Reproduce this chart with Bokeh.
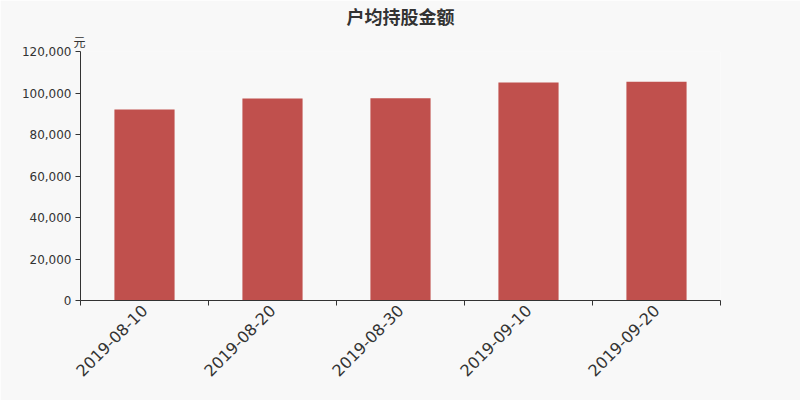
from math import pi
from bokeh.plotting import figure
from bokeh.models import (Range1d, LinearAxis, FixedTicker, NumeralTickFormatter, Title)
from bokeh.embed import file_html
from bokeh.resources import INLINE

categories = ["2019-08-10", "2019-08-20", "2019-08-30", "2019-09-10", "2019-09-20"]
values = [92000, 97400, 97500, 105100, 105400]
y_ticks = [0, 20000, 40000, 60000, 80000, 100000, 120000]
title_text = "户均持股金额"
unit_text = "元"

BG = "#f8f8f8"
TXT = "#333333"

n = len(categories)
centers = [i + 0.5 for i in range(n)]
bounds = list(range(n + 1))

p = figure(width=800, height=400, output_backend="svg", toolbar_location=None,
           x_range=Range1d(0, n), y_range=Range1d(0, 120000),
           x_axis_location=None, y_axis_location=None, title=None,
           background_fill_color=BG, border_fill_color=BG,
           min_border_left=80, min_border_right=80, min_border_top=50, min_border_bottom=100)
p.outline_line_color = None
p.grid.visible = False

unit_title = Title(text=unit_text, align="left", text_font="Noto Sans CJK SC",
                   text_font_size="12px", text_font_style="normal", text_color=TXT,
                   offset=-7, standoff=4)
main_title = Title(text=title_text, align="center", text_font="Noto Sans CJK SC",
                   text_font_size="18px", text_font_style="bold", text_color=TXT,
                   standoff=0)
p.add_layout(unit_title, "above")
p.add_layout(main_title, "above")

p.vbar(x=centers, top=values, width=0.47, fill_color="#c0504d", line_color=None)

# y axis
yax = LinearAxis(ticker=FixedTicker(ticks=y_ticks), formatter=NumeralTickFormatter(format="0,0"))
yax.axis_line_color = TXT
yax.major_tick_line_color = TXT
yax.major_tick_in = 0
yax.major_tick_out = 5
yax.minor_tick_line_color = None
yax.major_label_text_font = "DejaVu Sans"
yax.major_label_text_font_size = "12px"
yax.major_label_text_color = TXT
yax.major_label_standoff = 4
p.add_layout(yax, "left")

# x axis: labels at category centers, tick marks at category boundaries
xax = LinearAxis(ticker=FixedTicker(ticks=centers, minor_ticks=bounds),
                 major_label_overrides={c: lab for c, lab in zip(centers, categories)})
xax.axis_line_color = TXT
xax.major_tick_line_color = None
xax.major_tick_in = 0
xax.major_tick_out = 0
xax.minor_tick_line_color = TXT
xax.minor_tick_in = 0
xax.minor_tick_out = 5
xax.major_label_orientation = pi / 4
xax.major_label_text_font = "DejaVu Sans"
xax.major_label_text_font_size = "16px"
xax.major_label_text_color = TXT
xax.major_label_standoff = 2
p.add_layout(xax, "below")

open("out.html", "w").write(file_html(p, INLINE))
